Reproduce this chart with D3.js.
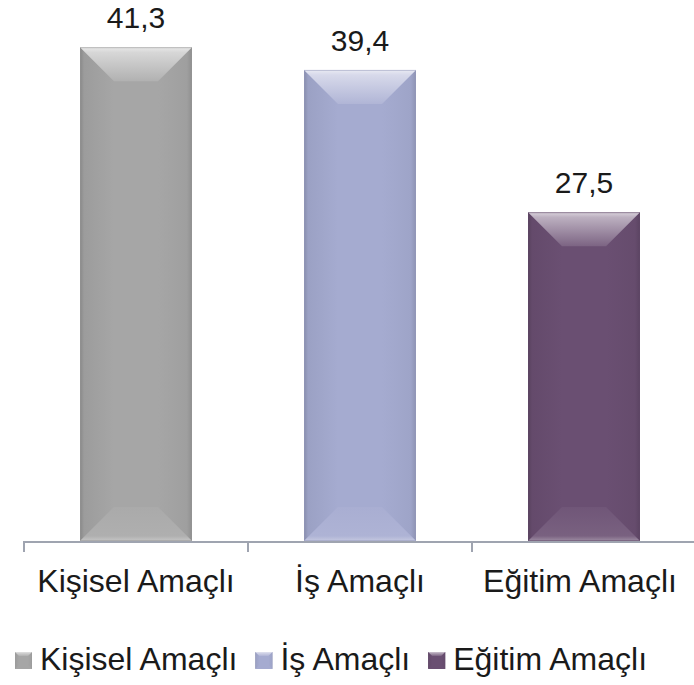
<!DOCTYPE html>
<html>
<head>
<meta charset="utf-8">
<script src="https://cdn.jsdelivr.net/npm/d3@7/dist/d3.min.js"></script>
<style>
  html, body { margin: 0; padding: 0; background: #ffffff; }
  svg { display: block; }
  text { font-family: "Liberation Sans", Arial, sans-serif; fill: #1a1a1a; }
</style>
</head>
<body>
<svg id="chart" width="694" height="685"></svg>
<script>
const categories = ["Kişisel Amaçlı", "İş Amaçlı", "Eğitim Amaçlı"];
const values = [41.3, 39.4, 27.5];
const valueLabels = ["41,3", "39,4", "27,5"];
const colors = ["#a6a6a6", "#a5abd0", "#6a4f72"];
const yDomain = [0, 45];

const svg = d3.select("#chart");
const W = 694, H = 685;
const axisY = 541;

const x = d3.scaleBand().domain(categories).range([24, 696]).paddingInner(0.5).paddingOuter(0.25);
const y = d3.scaleLinear().domain(yDomain).range([axisY, 3]);
const step = x.step();

const defs = svg.append("defs");
categories.forEach((c, i) => {
  const base = d3.color(colors[i]);
  const mk = (id, x1, y1, x2, y2, stops) => {
    const g = defs.append("linearGradient").attr("id", id)
      .attr("x1", x1).attr("y1", y1).attr("x2", x2).attr("y2", y2);
    stops.forEach(s => g.append("stop").attr("offset", s[0]).attr("stop-color", s[1]));
  };
  const mix = (col, t) => d3.interpolateRgb(col, "#ffffff")(t);
  const dark = (col, t) => d3.interpolateRgb(col, "#000000")(t);
  mk("top" + i, 0, 0, 0, 1, [[0, mix(base, 0.75)], [0.15, mix(base, 0.55)], [1, mix(base, 0.12)]]);
  mk("left" + i, 0, 0, 1, 0, [[0, dark(base, 0.18)], [0.12, dark(base, 0.06)], [1, base.toString()]]);
  mk("right" + i, 0, 0, 1, 0, [[0, base.toString()], [0.85, dark(base, 0.04)], [1, dark(base, 0.14)]]);
  mk("bot" + i, 0, 0, 0, 1, [[0, mix(base, 0.04)], [0.85, mix(base, 0.1)], [1, mix(base, 0.35)]]);
});

// bars
const bars = svg.append("g").selectAll("g").data(categories).join("g");
bars.each(function(c, i) {
  const g = d3.select(this);
  const x0 = x(c), x1 = x(c) + x.bandwidth();
  const yt = y(values[i]), yb = y(0);
  const b = Math.min(34, (x1 - x0) / 2, (yb - yt) / 2);
  g.append("rect").attr("x", x0).attr("y", yt).attr("width", x1 - x0).attr("height", yb - yt)
    .attr("fill", colors[i]);
  const poly = pts => pts.map(p => p.join(",")).join(" ");
  g.append("polygon").attr("points", poly([[x0, yt], [x0 + b, yt + b], [x0 + b, yb - b], [x0, yb]]))
    .attr("fill", `url(#left${i})`);
  g.append("polygon").attr("points", poly([[x1, yt], [x1 - b, yt + b], [x1 - b, yb - b], [x1, yb]]))
    .attr("fill", `url(#right${i})`);
  g.append("polygon").attr("points", poly([[x0, yb], [x0 + b, yb - b], [x1 - b, yb - b], [x1, yb]]))
    .attr("fill", `url(#bot${i})`);
  g.append("polygon").attr("points", poly([[x0, yt], [x1, yt], [x1 - b, yt + b], [x0 + b, yt + b]]))
    .attr("fill", `url(#top${i})`);
  g.append("rect").attr("x", x0 + 0.5).attr("y", yt + 0.5).attr("width", x1 - x0 - 1).attr("height", yb - yt - 1)
    .attr("fill", "none").attr("stroke", d3.interpolateRgb(colors[i], "#000")(0.1)).attr("stroke-opacity", 0.5);
});

// axis
const axisColor = "#9fa4b0";
const axisG = svg.append("g");
const left = x(categories[0]) - step * 0.25;
axisG.append("line").attr("x1", left).attr("x2", W).attr("y1", axisY + 1).attr("y2", axisY + 1)
  .attr("stroke", axisColor).attr("stroke-width", 2);
const tickXs = categories.map(c => x(c) - step * 0.25);
axisG.selectAll("line.tick").data(tickXs).join("line").attr("class", "tick")
  .attr("x1", d => d).attr("x2", d => d).attr("y1", axisY).attr("y2", axisY + 11)
  .attr("stroke", axisColor).attr("stroke-width", 2);

// category labels
svg.append("g").selectAll("text").data(categories).join("text")
  .attr("x", c => x(c) + x.bandwidth() / 2 - (c === categories[2] ? 4 : 0))
  .attr("y", 592).attr("text-anchor", "middle").style("font-size", "32px")
  .text(c => c);

// value labels
svg.append("g").selectAll("text").data(categories).join("text")
  .attr("x", c => x(c) + x.bandwidth() / 2)
  .attr("y", (c, i) => y(values[i]) - 19).attr("text-anchor", "middle").style("font-size", "30px")
  .text((c, i) => valueLabels[i]);

// legend
const leg = svg.append("g");
let lx = 15;
const ms = 17;
categories.forEach((c, i) => {
  const base = d3.color(colors[i]);
  const b = 4;
  const g = leg.append("g");
  const x0 = lx, x1 = lx + ms, yt = 652, yb = 652 + ms;
  const poly = pts => pts.map(p => p.join(",")).join(" ");
  g.append("rect").attr("x", x0).attr("y", yt).attr("width", ms).attr("height", ms).attr("fill", colors[i]);
  g.append("polygon").attr("points", poly([[x0, yt], [x0 + b, yt + b], [x0 + b, yb - b], [x0, yb]])).attr("fill", `url(#left${i})`);
  g.append("polygon").attr("points", poly([[x1, yt], [x1 - b, yt + b], [x1 - b, yb - b], [x1, yb]])).attr("fill", `url(#right${i})`);
  g.append("polygon").attr("points", poly([[x0, yt], [x1, yt], [x1 - b, yt + b], [x0 + b, yt + b]])).attr("fill", `url(#top${i})`);
  const t = g.append("text").attr("x", lx + ms + 8).attr("y", 670).style("font-size", "32px").text(c);
  const w = t.node().getComputedTextLength();
  lx = lx + ms + 8 + w + 18;
});
</script>
</body>
</html>
